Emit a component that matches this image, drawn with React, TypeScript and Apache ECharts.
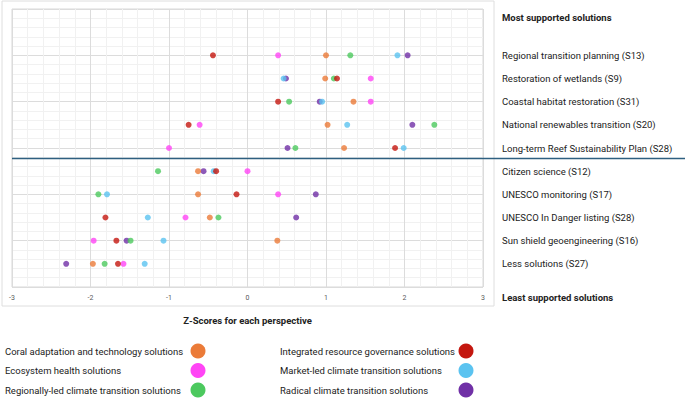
import React, { useEffect, useRef } from "react";
import * as echarts from "echarts";

// Solutions, top to bottom, with their row position on the value axis
const solutions = [
  "Regional transition planning (S13)",
  "Restoration of wetlands (S9)",
  "Coastal habitat restoration (S31)",
  "National renewables transition (S20)",
  "Long-term Reef Sustainability Plan (S28)",
  "Citizen science (S12)",
  "UNESCO monitoring (S17)",
  "UNESCO In Danger listing (S28)",
  "Sun shield geoengineering (S16)",
  "Less solutions (S27)",
];
const rowPositions = [10, 9, 8, 7, 6, 5, 4, 3, 2, 1];
const dividerPosition = 5.55;

const xTicks = [-3, -2, -1, 0, 1, 2, 3];

// Z-scores per perspective, in the order of `solutions`
const coralAdaptation = [1.0, 0.99, 1.35, 1.02, 1.23, -0.63, -0.63, -0.48, 0.38, -1.97];
const ecosystemHealth = [0.39, 1.57, 1.57, -0.61, -1.0, 0.0, 0.39, -0.79, -1.96, -1.58];
const regionallyLed = [1.31, 1.1, 0.53, 2.38, 0.61, -1.14, -1.9, -0.37, -1.49, -1.82];
const integratedGovernance = [-0.44, 1.14, 0.39, -0.75, 1.88, -0.4, -0.14, -1.81, -1.67, -1.65];
const marketLed = [1.91, 0.46, 0.95, 1.27, 1.99, -0.43, -1.79, -1.27, -1.07, -1.31];
const radicalTransition = [2.04, 0.49, 0.92, 2.1, 0.51, -0.56, 0.87, 0.62, -1.54, -2.31];

const perspectives = [
  { name: "Coral adaptation and technology solutions", color: "#EB7B38", values: coralAdaptation, z: 3 },
  { name: "Ecosystem health solutions", color: "#FF45F5", values: ecosystemHealth, z: 4 },
  { name: "Regionally-led climate transition solutions", color: "#4CC95E", values: regionallyLed, z: 5 },
  { name: "Integrated resource governance solutions", color: "#C4170F", values: integratedGovernance, z: 7 },
  { name: "Market-led climate transition solutions", color: "#5BC3F0", values: marketLed, z: 6 },
  { name: "Radical climate transition solutions", color: "#7030A6", values: radicalTransition, z: 2 },
];

const FONT = "Roboto";

export default function App() {
  const ref = useRef<HTMLDivElement>(null);

  useEffect(() => {
    if (!ref.current) return;
    const chart = echarts.init(ref.current, undefined, { renderer: "svg" });

    const labelByRow: Record<number, string> = {};
    rowPositions.forEach((r, i) => (labelByRow[r] = solutions[i]));

    chart.setOption({
      animation: false,
      backgroundColor: "#fff",
      grid: { left: 12, right: 202, top: 9, bottom: 113, show: true, borderColor: "#d9d9d9", borderWidth: 1 },
      xAxis: {
        type: "value",
        min: xTicks[0],
        max: xTicks[xTicks.length - 1],
        interval: 1,
        axisLine: { show: false },
        axisTick: { show: false },
        axisLabel: { fontSize: 7, color: "#595959", margin: 7, fontFamily: FONT },
        splitLine: { show: true, lineStyle: { color: "#dcdcdc", width: 1 } },
        minorTick: { show: false, splitNumber: 5 },
        minorSplitLine: { show: true, lineStyle: { color: "#f1f1f1", width: 1 } },
        name: "Z-Scores for each perspective",
        nameLocation: "middle",
        nameGap: 28,
        nameTextStyle: { fontSize: 9.5, fontWeight: "bold", color: "#222", fontFamily: FONT },
      },
      yAxis: [
        {
          type: "value",
          min: 0,
          max: 12,
          interval: 2,
          axisLine: { show: false },
          axisTick: { show: false },
          axisLabel: { show: false },
          splitLine: { show: true, lineStyle: { color: "#dcdcdc", width: 1 } },
          minorTick: { show: false, splitNumber: 5 },
          minorSplitLine: { show: true, lineStyle: { color: "#f1f1f1", width: 1 } },
        },
        {
          type: "value",
          position: "right",
          min: 0,
          max: 12,
          interval: 1,
          axisLine: { show: false },
          axisTick: { show: false },
          splitLine: { show: false },
          axisLabel: {
            align: "left",
            margin: 19,
            fontSize: 9.5,
            color: "#222",
            fontFamily: FONT,
            padding: [3, 0, 0, 0],
            formatter: (v: number) => labelByRow[v] || "",
          },
        },
      ],
      series: perspectives.map((p) => ({
        name: p.name,
        type: "scatter",
        symbol: "circle",
        symbolSize: 6,
        z: p.z,
        itemStyle: { color: p.color },
        data: p.values.map((v, i) => [v, rowPositions[i]]),
        emphasis: { disabled: true },
      })),
    });

    const gridLeft = chart.convertToPixel({ xAxisIndex: 0 }, xTicks[0]) as number;
    const gridRight = chart.convertToPixel({ xAxisIndex: 0 }, xTicks[xTicks.length - 1]) as number;
    const dividerY = chart.convertToPixel({ yAxisIndex: 0 }, dividerPosition) as number;

    // legend: two columns of three, text left, circle at a fixed column
    const legendCols = [
      { textX: 5, dotX: 198 },
      { textX: 280, dotX: 466 },
    ];
    const legendTop = 351;
    const legendStep = 19.5;
    const legendItems: any[] = [];
    perspectives.forEach((p, i) => {
      const col = legendCols[Math.floor(i / 3)];
      const y = legendTop + (i % 3) * legendStep;
      legendItems.push({
        type: "text",
        x: col.textX,
        y,
        silent: true,
        style: { text: p.name, fontSize: 9.5, fill: "#222", fontFamily: FONT, verticalAlign: "middle", align: "left" },
      });
      legendItems.push({
        type: "circle",
        silent: true,
        shape: { cx: col.dotX, cy: y, r: 7.5 },
        style: { fill: p.color },
      });
    });

    chart.setOption({
      graphic: [
        {
          type: "rect",
          shape: { x: 2, y: 1, width: gridRight + 11 - 2, height: 305 },
          style: { fill: "none", stroke: "#dedede", lineWidth: 1 },
          silent: true,
          z: -1,
        },
        {
          type: "line",
          shape: { x1: gridLeft, y1: dividerY, x2: 685, y2: dividerY },
          style: { stroke: "#2E5F80", lineWidth: 1.5 },
          silent: true,
          z: 10,
        },
        {
          type: "text",
          left: gridRight + 19,
          top: 12,
          style: { text: "Most supported solutions", fontSize: 9.5, fontWeight: "bold", fill: "#222", fontFamily: FONT },
        },
        {
          type: "text",
          left: gridRight + 19,
          top: 292,
          style: { text: "Least supported solutions", fontSize: 9.5, fontWeight: "bold", fill: "#222", fontFamily: FONT },
        },
        ...legendItems,
      ],
    });

    return () => chart.dispose();
  }, []);

  return <div ref={ref} style={{ position: "fixed", left: 0, top: 0, width: 685, height: 400 }} />;
}
